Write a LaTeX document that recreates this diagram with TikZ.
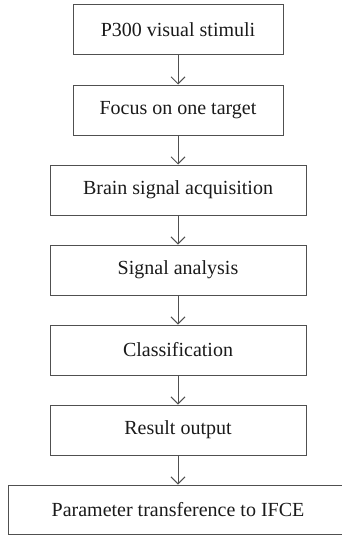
\documentclass[tikz,border=0pt]{standalone}
\usepackage{fontspec}
\setmainfont{Liberation Serif}
\usetikzlibrary{arrows.meta}
\definecolor{linec}{HTML}{505050}
\definecolor{textc}{HTML}{1A1A1A}
\begin{document}
\begin{tikzpicture}[x=1pt,y=1pt,
  stepbox/.style={draw=linec, line width=1pt, minimum height=50pt, inner sep=0pt,
    font=\fontsize{20}{24}\selectfont, text=textc},
  flow/.style={draw=linec, line width=1pt, -{Straight Barb[length=7pt,width=14pt,line width=1pt]}}]
\useasboundingbox (0,0) rectangle (342,-535);
\node[stepbox, minimum width=210pt] (b1) at (178,-30) {P300 visual stimuli};
\node[stepbox, minimum width=210pt] (b2) at (178,-110) {Focus on one target};
\node[stepbox, minimum width=256pt] (b3) at (178,-190) {Brain signal acquisition};
\node[stepbox, minimum width=256pt] (b4) at (178,-270) {Signal analysis};
\node[stepbox, minimum width=256pt] (b5) at (178,-350) {Classification};
\node[stepbox, minimum width=256pt] (b6) at (178,-430) {Result output};
\node[stepbox, minimum width=340pt, minimum height=49pt] (b7) at (178,-509.5) {Parameter transference to IFCE};
\draw[flow] (b1) -- (b2);
\draw[flow] (b2) -- (b3);
\draw[flow] (b3) -- (b4);
\draw[flow] (b4) -- (b5);
\draw[flow] (b5) -- (b6);
\draw[flow] (b6) -- (b7);
\end{tikzpicture}
\end{document}
